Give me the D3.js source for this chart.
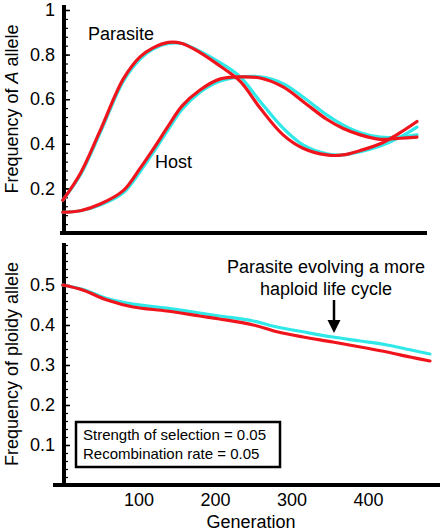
<!DOCTYPE html>
<html><head><meta charset="utf-8">
<script src="https://cdn.jsdelivr.net/npm/d3@7"></script>
<style>
html,body{margin:0;padding:0;background:#fff;}
svg text{font-family:"Liberation Sans",Arial,Helvetica,sans-serif;fill:#000;}
</style></head>
<body><svg id="c" width="440" height="532"></svg>
<script>
// ---- Data ----
const genTop = [1, 24, 50, 80, 102, 119, 139, 157, 180, 206, 233, 259, 289, 315, 346, 367, 390, 416, 442, 464];
const parasiteRed  = [0.147, 0.267, 0.46, 0.69, 0.79, 0.83, 0.855, 0.85, 0.81, 0.75, 0.68, 0.56, 0.44, 0.38, 0.35, 0.35, 0.37, 0.40, 0.45, 0.50];
const parasiteCyan = [0.147, 0.26, 0.45, 0.68, 0.78, 0.825, 0.85, 0.85, 0.815, 0.765, 0.70, 0.59, 0.47, 0.395, 0.355, 0.35, 0.365, 0.39, 0.43, 0.475];
const hostRed  = [0.093, 0.10, 0.13, 0.19, 0.29, 0.375, 0.48, 0.57, 0.64, 0.69, 0.70, 0.695, 0.655, 0.59, 0.51, 0.47, 0.44, 0.42, 0.425, 0.43];
const hostCyan = [0.093, 0.10, 0.125, 0.18, 0.275, 0.36, 0.465, 0.555, 0.63, 0.68, 0.70, 0.70, 0.67, 0.61, 0.53, 0.485, 0.45, 0.43, 0.43, 0.44];

const genBot = [1, 27, 59, 93, 137, 180, 206, 250, 281, 315, 354, 390, 425, 455, 481];
const ploidyRed  = [0.50, 0.4875, 0.4625, 0.445, 0.435, 0.4225, 0.415, 0.40, 0.383, 0.37, 0.3575, 0.345, 0.3325, 0.32, 0.31];
const ploidyCyan = [0.50, 0.489, 0.466, 0.452, 0.442, 0.43, 0.4225, 0.41, 0.395, 0.383, 0.37, 0.36, 0.35, 0.338, 0.3275];

const xTickValues = [100, 200, 300, 400];
const xTickLabels = ["100", "200", "300", "400"];
const topTickValues = [0.2, 0.4, 0.6, 0.8, 1];
const topTickLabels = ["0.2", "0.4", "0.6", "0.8", "1"];
const botTickValues = [0.1, 0.2, 0.3, 0.4, 0.5];
const botTickLabels = ["0.1", "0.2", "0.3", "0.4", "0.5"];

const RED = "#f0141c", CYAN = "#30e8e8";

const svg = d3.select("#c");
const x = d3.scaleLinear().domain([0, 500]).range([62, 444.5]);
const yTop = d3.scaleLinear().domain([0, 1]).range([233, 10]);
const yBot = d3.scaleLinear().domain([0, 0.6]).range([485, 245]);

function yAxis(scale, vals, labels, minorStep, top, bottom) {
  const g = svg.append("g");
  const ax = g.append("g").attr("transform", "translate(64,0)")
    .call(d3.axisLeft(scale).tickValues(vals).tickFormat((d, i) => labels[i]).tickSize(0).tickPadding(9));
  ax.select(".domain").remove();
  ax.selectAll("text").style("font-size", "18px");
  const [d0, d1] = scale.domain();
  const minor = d3.range(Math.round((d1 - d0) / minorStep) + 1).map(i => d0 + i * minorStep).filter(v => v > d0 + 1e-9);
  const mt = g.append("g").attr("transform", "translate(65,0)")
    .call(d3.axisRight(scale).tickValues(minor).tickSize(3).tickFormat(""));
  mt.select(".domain").remove();
  mt.selectAll("line").attr("stroke", "#000").attr("stroke-width", 1.2);
  const mj = g.append("g").attr("transform", "translate(65,0)")
    .call(d3.axisRight(scale).tickValues(vals).tickSize(5).tickFormat(""));
  mj.select(".domain").remove();
  mj.selectAll("line").attr("stroke", "#000").attr("stroke-width", 1.5);
  g.append("line").attr("x1", 64).attr("x2", 64).attr("y1", top).attr("y2", bottom)
    .attr("stroke", "#000").attr("stroke-width", 4);
}

yAxis(yTop, topTickValues, topTickLabels, 0.04, 5, 235);
svg.append("line").attr("x1", 60).attr("x2", 427).attr("y1", 233).attr("y2", 233)
  .attr("stroke", "#000").attr("stroke-width", 4);

yAxis(yBot, botTickValues, botTickLabels, 0.02, 243, 487);
svg.append("line").attr("x1", 53).attr("x2", 440).attr("y1", 485).attr("y2", 485)
  .attr("stroke", "#000").attr("stroke-width", 4);

const xa = svg.append("g").attr("transform", "translate(0,487)")
  .call(d3.axisBottom(x).tickValues(xTickValues).tickFormat((d, i) => xTickLabels[i]).tickSize(0).tickPadding(6));
xa.select(".domain").remove();
xa.selectAll("text").style("font-size", "18px");

function drawLine(gens, vals, scale, color) {
  const line = d3.line().x((d, i) => x(gens[i])).y(d => scale(d)).curve(d3.curveCatmullRom.alpha(0.5));
  svg.append("path").datum(vals).attr("d", line).attr("fill", "none")
    .attr("stroke", color).attr("stroke-width", 3.2).attr("stroke-linejoin", "round").attr("stroke-linecap", "round");
}
drawLine(genTop, parasiteCyan, yTop, CYAN);
drawLine(genTop, hostCyan, yTop, CYAN);
drawLine(genTop, parasiteRed, yTop, RED);
drawLine(genTop, hostRed, yTop, RED);
drawLine(genBot, ploidyCyan, yBot, CYAN);
drawLine(genBot, ploidyRed, yBot, RED);

svg.append("text").attr("x", 88).attr("y", 40).style("font-size", "18px").text("Parasite");
svg.append("text").attr("x", 155).attr("y", 168).style("font-size", "18px").text("Host");

const yl1 = svg.append("text").attr("transform", "translate(18,109) rotate(-90)")
  .attr("text-anchor", "middle").style("font-size", "18px");
yl1.append("tspan").text("Frequency of ");
yl1.append("tspan").style("font-style", "italic").text("A");
yl1.append("tspan").text(" allele");

svg.append("text").attr("transform", "translate(18,364) rotate(-90)")
  .attr("text-anchor", "middle").style("font-size", "18px").text("Frequency of ploidy allele");

svg.append("text").attr("x", 251).attr("y", 528).attr("text-anchor", "middle")
  .style("font-size", "18px").text("Generation");

svg.append("text").attr("x", 326).attr("y", 273).attr("text-anchor", "middle")
  .style("font-size", "18px").text("Parasite evolving a more");
svg.append("text").attr("x", 326).attr("y", 295).attr("text-anchor", "middle")
  .style("font-size", "18px").text("haploid life cycle");
svg.append("line").attr("x1", 334).attr("x2", 334).attr("y1", 300).attr("y2", 322)
  .attr("stroke", "#000").attr("stroke-width", 2.5);
svg.append("path").attr("d", "M327.5,320 L340.5,320 L334,333 Z").attr("fill", "#000");

svg.append("rect").attr("x", 76).attr("y", 422).attr("width", 204).attr("height", 45)
  .attr("fill", "#fff").attr("stroke", "#000").attr("stroke-width", 2.5);
svg.append("text").attr("x", 83).attr("y", 440).style("font-size", "15px").text("Strength of selection = 0.05");
svg.append("text").attr("x", 83).attr("y", 459).style("font-size", "15px").text("Recombination rate = 0.05");
</script></body></html>
